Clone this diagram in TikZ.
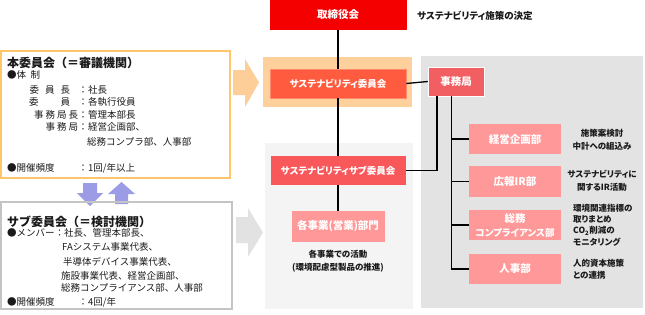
\documentclass[tikz,border=0pt]{standalone}
\usepackage{fontspec}
\setmainfont{Noto Sans CJK JP}
\newfontfamily\jpp{Noto Sans CJK JP}[RawFeature={+palt}]
\definecolor{boardred}{HTML}{F50000}
\definecolor{committee}{HTML}{FF5B3F}
\definecolor{committeeb}{HTML}{FF8A70}
\definecolor{subred}{HTML}{F9585A}
\definecolor{jimuc}{HTML}{F25F63}
\definecolor{pinkc}{HTML}{FF9999}
\definecolor{orangebg}{HTML}{FDD09C}
\definecolor{panelc}{HTML}{E3E3E3}
\definecolor{lightc}{HTML}{F4F4F4}
\definecolor{orangeborder}{HTML}{FFC56A}
\definecolor{grayborder}{HTML}{C4C4C4}
\definecolor{arrowblue}{HTML}{9B9BE6}
\definecolor{orangearrow}{HTML}{FDCE98}
\definecolor{grayarrow}{HTML}{E2E2E2}
\definecolor{textc}{HTML}{1A1A1A}
\newcommand{\lrow}[2]{\makebox[69pt][r]{#1}\makebox[10pt]{：}#2}
\begin{document}
\begin{tikzpicture}[x=1pt,y=-1pt,
  box/.style={inner sep=0pt, text=white, font=\jpp\bfseries\fontsize{10.5}{14}\selectfont, align=center},
  txt/.style={inner sep=0pt, anchor=west, text=textc, font=\fontsize{9.5}{11}\selectfont},
  ttl/.style={inner sep=0pt, anchor=west, text=textc, font=\bfseries\fontsize{12}{14}\selectfont},
  note/.style={inner sep=0pt, text=textc, font=\jpp\bfseries\fontsize{8.5}{13}\selectfont},
  conn/.style={draw=black, line width=1.3pt}]
\useasboundingbox[fill=white] (0,0) rectangle (645,314);
% panels
\fill[panelc] (421,56) rectangle (643,308);
\fill[lightc] (265,143) rectangle (413,309);
\fill[orangebg] (263,57) rectangle (412,107);
% big arrows
\fill[orangearrow] (233,70) -- (245,70) -- (245,59) -- (259,82.5) -- (245,107) -- (245,95) -- (233,95) -- cycle;
\fill[grayarrow] (236,217) -- (248,217) -- (248,208) -- (263,232.5) -- (248,257) -- (248,243) -- (236,243) -- cycle;
% small arrows
\fill[arrowblue] (83,183) -- (97,183) -- (97,193) -- (103,193) -- (90,206) -- (77,193) -- (83,193) -- cycle;
\fill[arrowblue] (115,204) -- (128,204) -- (128,194) -- (135,194) -- (121.5,182) -- (108,194) -- (115,194) -- cycle;
% left boxes
\draw[orangeborder, line width=1.5pt] (1,51) rectangle (230,178);
\draw[grayborder, line width=1.5pt] (1,202) rectangle (232,309);
\node[ttl] (t1) at (7,63) {本委員会（＝審議機関）};
\node[txt] (a0) at (7,75) {●体\hspace{4.5pt}制};
\node[txt] (a1) at (9,90) {\lrow{委\hspace{6pt}員\hspace{6pt}長\hspace{8pt}}{社長}};
\node[txt] (a2) at (9,102) {\lrow{委\hspace{22pt}員\hspace{8pt}}{各執行役員}};
\node[txt] (a3) at (9,115) {\lrow{事\hspace{2pt}務\hspace{2pt}局\hspace{2pt}長}{管理本部長}};
\node[txt] (a4) at (9,127) {\lrow{事\hspace{2pt}務\hspace{2pt}局}{経営企画部、}};
\node[txt] (a5) at (87,142) {総務コンプラ部、人事部};
\node[txt] (a6) at (7,168) {\makebox[71pt][l]{●開催頻度}\makebox[10pt]{：}1回/年以上};
\node[ttl] (t2) at (7,222) {サブ委員会（＝検討機関）};
\node[txt] (b1) at (7,233) {\makebox[48pt][l]{●メンバー}\makebox[9pt]{：}社長、管理本部長、};
\node[txt] (b2) at (62,247) {FAシステム事業代表、};
\node[txt] (b3) at (63,262) {半導体デバイス事業代表、};
\node[txt] (b4) at (61,276) {施設事業代表、経営企画部、};
\node[txt] (b5) at (61,288) {総務コンプライアンス部、人事部};
\node[txt] (b6) at (7,302) {\makebox[71pt][l]{●開催頻度}\makebox[10pt]{：}4回/年};
% center column
\node[box, fill=boardred, minimum width=137pt, minimum height=30pt] (board) at (338,15) {取締役会};
\node[note, anchor=west, font=\jpp\bfseries\fontsize{9.5}{11}\selectfont] (decide) at (417,16) {サステナビリティ施策の決定};
\node[box, fill=committee, draw=committeeb, line width=0.6pt, minimum width=136pt, minimum height=29pt, font=\jpp\bfseries\fontsize{9.5}{11}\selectfont] (comm) at (338,83.5) {サステナビリティ委員会};
\node[box, fill=subred, minimum width=135pt, minimum height=29pt, font=\jpp\bfseries\fontsize{9.5}{11}\selectfont] (sub) at (338,170.5) {サステナビリティサブ委員会};
\node[box, fill=pinkc, minimum width=93pt, minimum height=31pt] (biz) at (338,226.5) {各事業(営業)部門};
\node[note, align=center] (bizact) at (338,261.5) {各事業での活動\\(環境配慮型製品の推進)};
% right column
\node[box, fill=jimuc, draw=white, line width=0.5pt, minimum width=56pt, minimum height=29pt] (jimu) at (456,81.5) {事務局};
\node[box, fill=pinkc, minimum width=92pt, minimum height=30pt] (keiei) at (515,139) {経営企画部};
\node[box, fill=pinkc, minimum width=92pt, minimum height=31pt] (koho) at (515,181.5) {広報IR部};
\node[box, fill=pinkc, minimum width=92pt, minimum height=30pt] (somu) at (515,225) {総務\\{\fontsize{9.5}{11}\selectfont コンプライアンス部}};
\node[box, fill=pinkc, minimum width=92pt, minimum height=30pt] (jinji) at (515,269) {人事部};
\node[note, align=center] (n1) at (602,140) {施策案検討\\中計への組込み};
\node[note, align=center] (n2) at (602,181) {サステナビリティに\\関するIR活動};
\node[note, align=left, anchor=west, font=\jpp\bfseries\fontsize{8.5}{11.2}\selectfont] (n3) at (573,225) {環境関連指標の\\取りまとめ\\CO\textsubscript{2}削減の\\モニタリング};
\node[note, align=left, anchor=west, font=\jpp\bfseries\fontsize{8.5}{11.5}\selectfont] (n4) at (573,269) {人的資本施策\\との連携};
% connectors
\draw[conn] (board.south) -- (comm.north);
\draw[conn] (comm.south) -- (sub.north);
\draw[conn] (sub.south) -- (biz.north);
\draw[conn] (comm.east) -- (jimu.west);
\draw[conn] ([xshift=-19pt]jimu.south) |- (sub.east);
\coordinate (bus) at ([xshift=-4.5pt]jimu.south);
\draw[conn] (bus) |- (jinji.west);
\foreach \n in {keiei,koho,somu} \draw[conn] (\n.west) -- (\n.west -| bus);
\end{tikzpicture}
\end{document}
